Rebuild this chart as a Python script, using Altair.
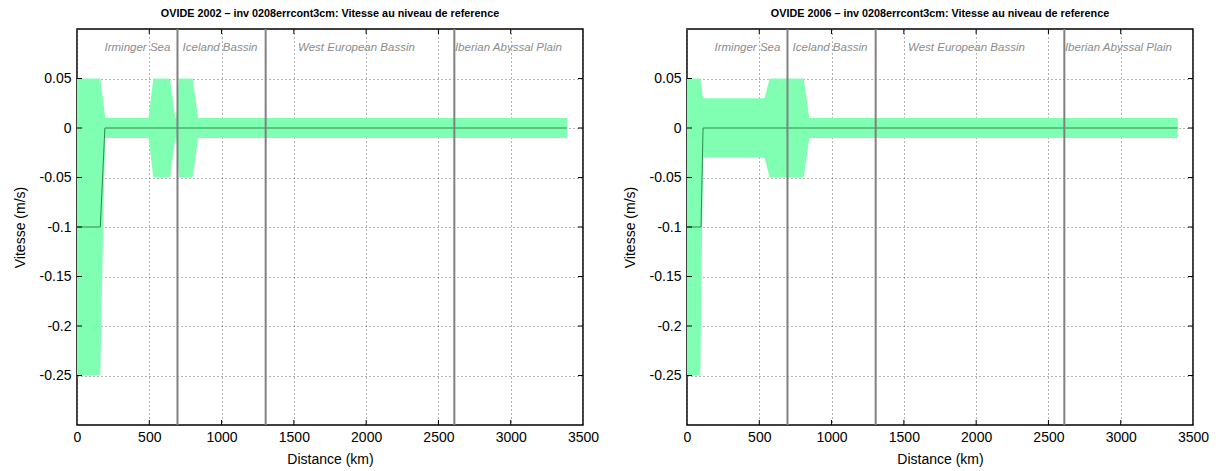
import altair as alt
import pandas as pd

# ---- data ----
x_ticks = [0, 500, 1000, 1500, 2000, 2500, 3000, 3500]
y_ticks = [-0.25, -0.2, -0.15, -0.1, -0.05, 0, 0.05]
section_km = [695, 1305, 2610]
region_names = ["Irminger Sea", "Iceland Bassin", "West European Bassin", "Iberian Abyssal Plain"]
region_km = [418, 989, 1933, 2984]

# OVIDE 2002: error envelope and reference velocity
band02_km = [0, 161, 185, 196, 495, 528, 643, 680, 687, 705, 800, 838, 3390]
band02_hi = [0.05, 0.05, 0.023, 0.01, 0.01, 0.05, 0.05, 0.01, 0.01, 0.05, 0.05, 0.01, 0.01]
band02_lo = [-0.25, -0.25, -0.07, -0.01, -0.01, -0.05, -0.05, -0.01, -0.01, -0.05, -0.05, -0.01, -0.01]
line02_km = [0, 161, 193, 3390]
line02_v = [-0.1, -0.1, 0, 0]

# OVIDE 2006
band06_km = [0, 92, 111, 537, 572, 807, 846, 3395]
band06_hi = [0.05, 0.05, 0.03, 0.03, 0.05, 0.05, 0.01, 0.01]
band06_lo = [-0.25, -0.25, -0.03, -0.03, -0.05, -0.05, -0.01, -0.01]
line06_km = [0, 97, 111, 3395]
line06_v = [-0.1, -0.1, 0, 0]

W, H = 506, 396
FONT = "Liberation Sans"


def panel(title, bkm, blo, bhi, lkm, lv):
    xs = alt.Scale(domain=[0, 3500], nice=False, zero=False)
    ys = alt.Scale(domain=[-0.3, 0.1], nice=False, zero=False)
    band_df = pd.DataFrame({"km": bkm, "lo": blo, "hi": bhi})
    line_df = pd.DataFrame({"km": lkm, "v": lv})
    sec_df = pd.DataFrame({"km": section_km})
    reg_df = pd.DataFrame({"km": region_km, "name": region_names})
    xt_df = pd.DataFrame({"km": x_ticks[1:-1]})
    yt_df = pd.DataFrame({"v": y_ticks})

    band = alt.Chart(band_df).mark_area(color="#80ffb3", opacity=1, interpolate="linear").encode(
        x=alt.X("km:Q", scale=xs, axis=alt.Axis(
            values=x_ticks, grid=True, gridDash=[1, 3], gridColor="#666666", gridWidth=1,
            ticks=False, domain=False, labelFlush=False, labelPadding=5,
            labelExpr="'' + datum.value",
            title="Distance (km)", titlePadding=8)),
        y=alt.Y("lo:Q", scale=ys, axis=alt.Axis(
            values=y_ticks, grid=True, gridDash=[1, 3], gridColor="#666666", gridWidth=1,
            ticks=False, domain=False, labelPadding=6, labelExpr="'' + datum.value",
            title="Vitesse (m/s)", titlePadding=12)),
        y2="hi:Q",
    )
    line = alt.Chart(line_df).mark_line(color="#2e8b4e", strokeWidth=1).encode(
        x=alt.X("km:Q", scale=xs), y=alt.Y("v:Q", scale=ys))
    secs = alt.Chart(sec_df).mark_rule(color="#808080", strokeWidth=2).encode(
        x=alt.X("km:Q", scale=xs))
    regs = alt.Chart(reg_df).mark_text(font=FONT, fontSize=11.5, fontStyle="italic",
                                       color="#8c8c8c", baseline="middle").encode(
        x=alt.X("km:Q", scale=xs), y=alt.value(19), text="name:N")
    xb = alt.Chart(xt_df).mark_rule(color="black").encode(
        x=alt.X("km:Q", scale=xs), y=alt.value(H - 5), y2=alt.value(H))
    xtop = alt.Chart(xt_df).mark_rule(color="black").encode(
        x=alt.X("km:Q", scale=xs), y=alt.value(0), y2=alt.value(5))
    yl = alt.Chart(yt_df).mark_rule(color="black").encode(
        y=alt.Y("v:Q", scale=ys), x=alt.value(0), x2=alt.value(5))
    yr = alt.Chart(yt_df).mark_rule(color="black").encode(
        y=alt.Y("v:Q", scale=ys), x=alt.value(W - 5), x2=alt.value(W))
    return alt.layer(band, line, secs, regs, xb, xtop, yl, yr).properties(
        width=W, height=H,
        title=alt.TitleParams(title, font=FONT, fontSize=10.8, fontWeight="bold",
                              anchor="middle", offset=9, color="black"))


left = panel("OVIDE 2002 \u2013 inv 0208errcont3cm: Vitesse au niveau de reference",
             band02_km, band02_lo, band02_hi, line02_km, line02_v)
right = panel("OVIDE 2006 \u2013 inv 0208errcont3cm: Vitesse au niveau de reference",
              band06_km, band06_lo, band06_hi, line06_km, line06_v)

chart = alt.hconcat(left, right, spacing=22).properties(
    padding={"left": 12, "top": 7, "right": 0, "bottom": 0},
    background="white",
).configure_view(stroke="black", strokeWidth=1.5).configure_axis(
    labelFont=FONT, labelFontSize=14, labelColor="black",
    titleFont=FONT, titleFontSize=14, titleFontWeight="normal", titleColor="black",
)

chart.save("out.html", embed_options={"renderer": "svg", "actions": False})
